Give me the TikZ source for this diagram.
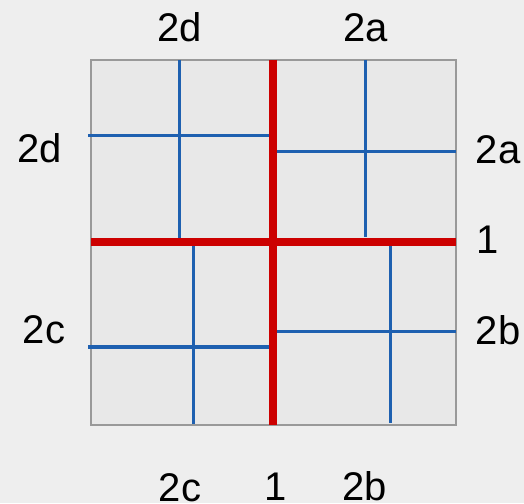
\documentclass[tikz,border=0pt]{standalone}
\usepackage{fontspec}
\setmainfont{Liberation Sans}
\definecolor{bgback}{RGB}{238,238,238}
\definecolor{boxfill}{RGB}{232,232,232}
\definecolor{boxline}{RGB}{153,153,153}
\definecolor{cutred}{RGB}{204,0,0}
\definecolor{cutblue}{RGB}{30,96,176}

\begin{document}
\begin{tikzpicture}[
  x=0.75pt, y=-0.75pt,
  font=\fontsize{30}{36}\selectfont,
  lbl/.style={inner sep=0pt, anchor=base},
  cut1/.style={draw=cutred, line width=6pt},
  cut2/.style={draw=cutblue, line width=2.3pt}
]
\fill[bgback] (0,0) rectangle (524,503);
\useasboundingbox (0,0) rectangle (524,503);
% square region
\coordinate (nw) at (91,60);
\coordinate (se) at (456,425);
\draw[boxline, fill=boxfill, line width=1.5pt] (nw) rectangle (se);
% first cut
\coordinate (t1) at (272.5,60);
\coordinate (b1) at (272.5,425);
\coordinate (l1) at (91,242);
\coordinate (r1) at (456,242);
% second cuts
\coordinate (dvt) at (179.5,60);   \coordinate (dvb) at (179.5,240);
\coordinate (dhl) at (88,135.5);   \coordinate (dhr) at (270.5,135.5);
\coordinate (avt) at (365.5,60);   \coordinate (avb) at (365.5,237);
\coordinate (ahl) at (274,151.5);  \coordinate (ahr) at (456,151.5);
\coordinate (cvt) at (193.5,240);  \coordinate (cvb) at (193.5,424);
\coordinate (chl) at (88,347);     \coordinate (chr) at (270.5,347);
\coordinate (bvt) at (390.5,240);  \coordinate (bvb) at (390.5,423);
\coordinate (bhl) at (274,331.5);  \coordinate (bhr) at (456,331.5);
\draw[cut2] (dvt) -- (dvb);
\draw[cut2] (dhl) -- (dhr);
\draw[cut2] (avt) -- (avb);
\draw[cut2] (ahl) -- (ahr);
\draw[cut2] (cvt) -- (cvb);
\draw[cut2] (chl) -- (chr);
\draw[cut2] (bvt) -- (bvb);
\draw[cut2] (bhl) -- (bhr);
\draw[cut1] (l1) -- (r1);
\draw[cut1] (t1) -- (b1);
% labels
\node[lbl] (topd) at (179.5,41) {2d};
\node[lbl] (topa) at (365.5,41) {2a};
\node[lbl] (leftd) at (39.5,162) {2d};
\node[lbl] (righta) at (498,163) {2a};
\node[lbl] (rightone) at (488,253) {1};
\node[lbl] (leftc) at (44,343) {2c};
\node[lbl] (rightb) at (498,344) {2b};
\node[lbl] (botc) at (180,501) {2c};
\node[lbl] (botone) at (275.5,500.5) {1};
\node[lbl] (botb) at (365,500) {2b};
\end{tikzpicture}
\end{document}
